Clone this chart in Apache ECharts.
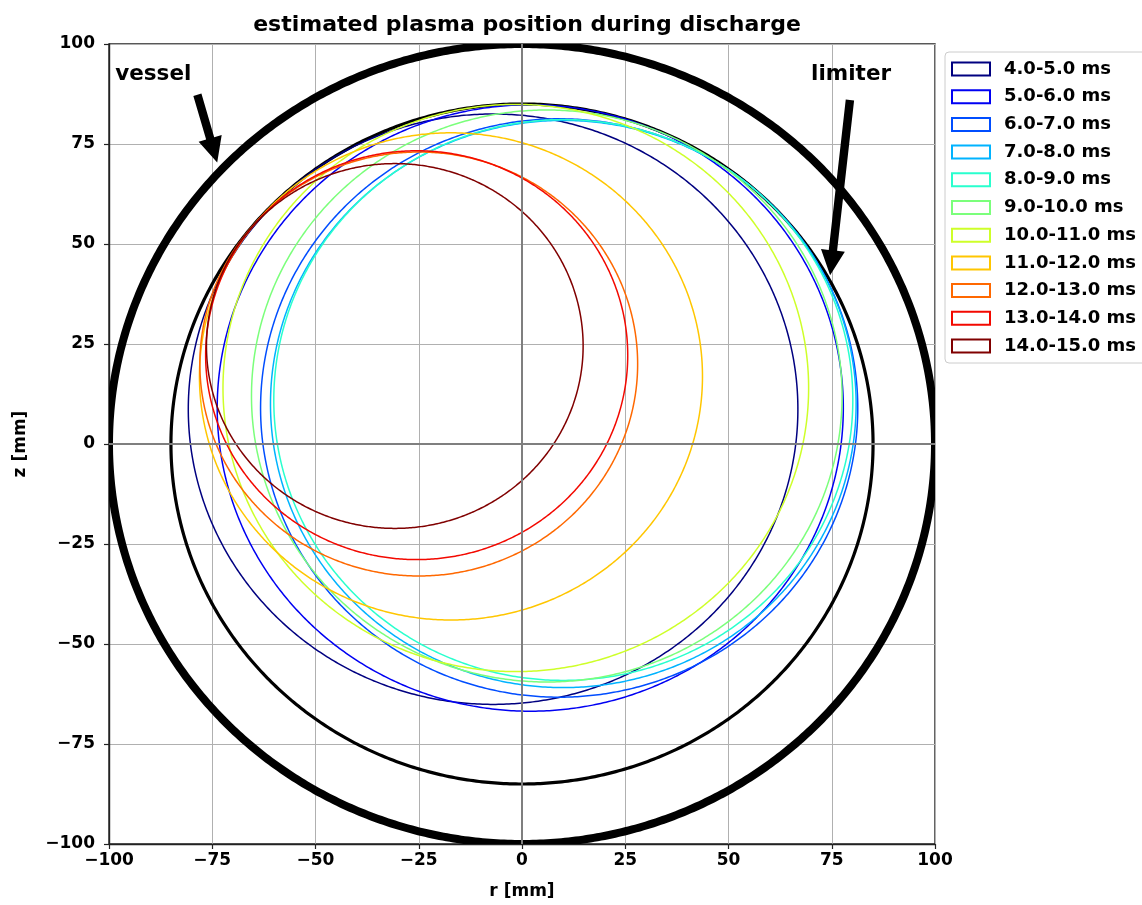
<!DOCTYPE html>
<html><head><meta charset="utf-8">
<script src="https://cdn.jsdelivr.net/npm/echarts@6/dist/echarts.min.js"></script>
<style>html,body{margin:0;padding:0;background:#fff}#c{width:1142px;height:905px}</style>
</head><body><div id="c"></div>
<script>
// ---- data ----
const intervals = ['4.0-5.0 ms','5.0-6.0 ms','6.0-7.0 ms','7.0-8.0 ms','8.0-9.0 ms','9.0-10.0 ms','10.0-11.0 ms','11.0-12.0 ms','12.0-13.0 ms','13.0-14.0 ms','14.0-15.0 ms'];
const centerR = [-7, 2, 9, 10, 10, 6, -1.5, -17.2, -25, -25.5, -30.8];
const centerZ = [8.7, 9, 9, 10, 11, 12, 14, 16.9, 20, 22.2, 24.5];
const radius  = [73.8, 75.8, 72.3, 70.9, 70.1, 71.5, 70.9, 60.9, 53, 51.1, 45.6];
const colors  = ['#000080','#0000f3','#004dff','#00b3ff','#29ffce','#7bff7b','#ceff29','#ffc600','#ff6800','#f30900','#800000'];
const wallNames = ['vessel','limiter'];
const wallRadius = [100, 85];
const axisMin = -100, axisMax = 100, axisStep = 25;
const annText = ['vessel','limiter'];
const annTextR = [-98.5, 70];
const annTextZ = [92.3, 92.3];
const arrowFromR = [-78.6, 79.4];
const arrowFromZ = [87.3, 86];
const arrowToR = [-73.8, 74.6];
const arrowToZ = [70.4, 42.2];

const FONT = '"DejaVu Sans", sans-serif';
const chart = echarts.init(document.getElementById('c'), null, {renderer:'canvas'});

function circleRender(color, width) {
  return function (params, api) {
    const cr = api.value(0), cz = api.value(1), R = api.value(2);
    const pts = [];
    for (let k = 0; k <= 720; k++) {
      const a = k * Math.PI / 360;
      pts.push(api.coord([cr + R * Math.cos(a), cz + R * Math.sin(a)]));
    }
    const cs = params.coordSys;
    return {
      type: 'group',
      clipPath: {type: 'rect', shape: {x: cs.x, y: cs.y, width: cs.width, height: cs.height}},
      children: [{type: 'polyline', shape: {points: pts}, style: {stroke: color, lineWidth: width, fill: null}}]
    };
  };
}

const series = [];
series.push({
  type: 'line', name: 'zero', data: [], silent: true, z: 1,
  markLine: {symbol: 'none', silent: true, label: {show: false},
    lineStyle: {color: '#7f7f7f', width: 2, type: 'solid'},
    data: [{xAxis: 0}, {yAxis: 0}]}
});
wallNames.forEach((n, i) => {
  series.push({
    type: 'custom', name: n, silent: true, z: 3,
    renderItem: circleRender('#000', i === 0 ? 8 : 3.2),
    data: [[0, 0, wallRadius[i]]]
  });
});
intervals.forEach((n, i) => {
  series.push({
    type: 'custom', name: n, silent: true, z: 4,
    itemStyle: {color: colors[i]},
    renderItem: circleRender(colors[i], 1.5),
    data: [[centerR[i], centerZ[i], radius[i]]]
  });
});
series.push({
  type: 'custom', name: 'annotations', silent: true, z: 5,
  renderItem: function (params, api) {
    const i = params.dataIndex;
    const p0 = api.coord([api.value(0), api.value(1)]);
    const p1 = api.coord([api.value(2), api.value(3)]);
    const tp = api.coord([api.value(4), api.value(5)]);
    const dx = p1[0] - p0[0], dy = p1[1] - p0[1], L = Math.hypot(dx, dy);
    const ux = dx / L, uy = dy / L, nx = -uy, ny = ux;
    const hw = 4.2, HW = 12, HL = 25;
    const bx = p1[0] - ux * HL, by = p1[1] - uy * HL;
    const pts = [
      [p0[0] + nx * hw, p0[1] + ny * hw],
      [bx + nx * hw, by + ny * hw],
      [bx + nx * HW, by + ny * HW],
      [p1[0], p1[1]],
      [bx - nx * HW, by - ny * HW],
      [bx - nx * hw, by - ny * hw],
      [p0[0] - nx * hw, p0[1] - ny * hw]
    ];
    return {type: 'group', children: [
      {type: 'polygon', shape: {points: pts}, style: {fill: '#000'}},
      {type: 'text', x: tp[0], y: tp[1], style: {text: annText[i], font: 'bold 21.5px ' + FONT, fill: '#000', align: 'left', verticalAlign: 'middle'}}
    ]};
  },
  data: annText.map((t, i) => [arrowFromR[i], arrowFromZ[i], arrowToR[i], arrowToZ[i], annTextR[i], annTextZ[i]])
});

const minusFmt = v => String(v).replace('-', '\u2212');
const axisCommon = {
  type: 'value', min: axisMin, max: axisMax, interval: axisStep,
  nameLocation: 'middle',
  nameTextStyle: {fontFamily: FONT, fontWeight: 'bold', fontSize: 17, color: '#000'},
  axisLine: {show: true, onZero: false, lineStyle: {color: '#222', width: 1.4}},
  axisTick: {show: true, length: 5, inside: false, lineStyle: {color: '#222', width: 1.2}},
  splitLine: {show: true, lineStyle: {color: '#b0b0b0', width: 1}},
};

chart.setOption({
  animation: false,
  backgroundColor: '#fff',
  title: {text: 'estimated plasma position during discharge', left: 522, textAlign: 'center', top: 9,
    textStyle: {fontFamily: FONT, fontWeight: 'bold', fontSize: 22, color: '#000'}},
  grid: {left: 109, right: 207, top: 44, bottom: 57, show: true, borderColor: '#222', borderWidth: 1.4},
  xAxis: Object.assign({}, axisCommon, {name: 'r [mm]', nameGap: 39,
    axisLabel: {formatter: minusFmt, margin: 8, fontFamily: FONT, fontWeight: 'bold', fontSize: 17, color: '#000'}}),
  yAxis: Object.assign({}, axisCommon, {name: 'z [mm]', nameGap: 80, nameRotate: 90,
    axisLabel: {formatter: minusFmt, margin: 14, fontFamily: FONT, fontWeight: 'bold', fontSize: 17, color: '#000'}}),
  legend: {
    orient: 'vertical', left: 945, top: 52,
    backgroundColor: '#fff', borderColor: '#cccccc', borderWidth: 1, borderRadius: 4,
    padding: [8, 10, 8, 6], itemWidth: 38, itemHeight: 13, itemGap: 9.7,
    selectedMode: false,
    textStyle: {fontFamily: FONT, fontWeight: 'bold', fontSize: 18, lineHeight: 18, color: '#000', padding: [0, 0, 0, 9]},
    data: intervals.map((n, i) => ({name: n, icon: 'rect', itemStyle: {color: '#fff', borderColor: colors[i], borderWidth: 2}}))
  },
  series: series
});
</script></body></html>
